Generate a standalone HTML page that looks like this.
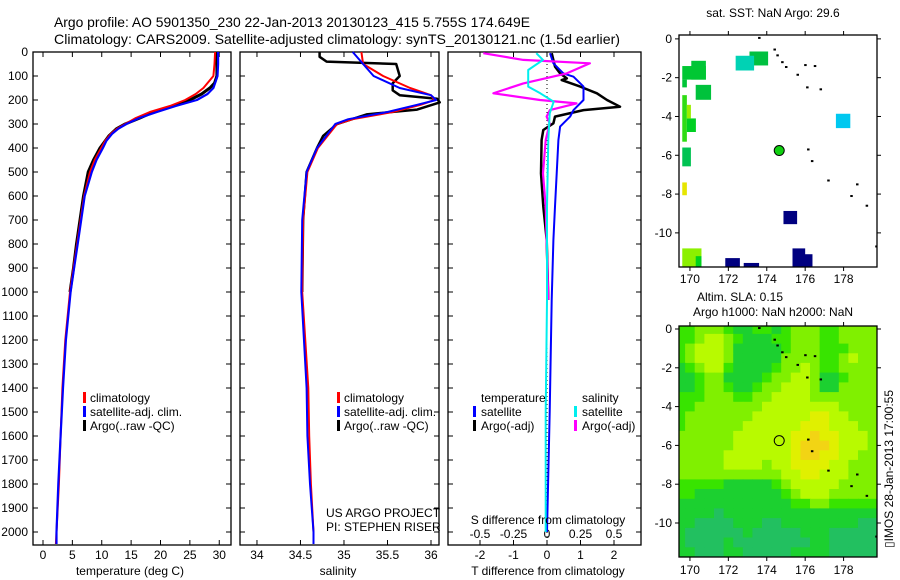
<!DOCTYPE html>
<html><head><meta charset="utf-8">
<style>
html,body{margin:0;padding:0;background:#fff;}
svg{display:block;font-family:"Liberation Sans",sans-serif;}
text{fill:#000;}
</style></head>
<body>
<svg id="fig" width="900" height="580" viewBox="0 0 900 580" xmlns="http://www.w3.org/2000/svg">
<text x="54" y="27" font-size="14" textLength="476" lengthAdjust="spacingAndGlyphs">Argo profile: AO 5901350_230 22-Jan-2013 20130123_415 5.755S 174.649E</text>
<text x="54" y="44" font-size="14" textLength="566" lengthAdjust="spacingAndGlyphs">Climatology: CARS2009. Satellite-adjusted climatology: synTS_20130121.nc (1.5d earlier)</text>
<g id="g1"></g>
<g id="g2"></g>
<g id="g3"></g>
<g id="g4"></g>
<g id="g5"></g>
<text x="773" y="17" font-size="12" text-anchor="middle">sat. SST: NaN Argo: 29.6</text>
<text x="740" y="301" font-size="12" text-anchor="middle">Altim. SLA: 0.15</text>
<text x="773" y="316" font-size="12" text-anchor="middle">Argo h1000: NaN h2000: NaN</text>
<text transform="translate(893,548) rotate(-90)" font-size="12">▯IMOS 28-Jan-2013 17:00:55</text>
</svg>
<script>
// ---- profile data ----
const depthTicks=[0,100,200,300,400,500,600,700,800,900,1000,1100,1200,1300,1400,1500,1600,1700,1800,1900,2000];
const tempTicks=[0,5,10,15,20,25,30];
const salTicks=[34,34.5,35,35.5,36];
const tdiffTicks=[-2,-1,0,1,2];
const sdiffTicks=[-0.5,-0.25,0,0.25,0.5];
const sdiffLabels=["-0.5","-0.25","0","0.25","0.5"];

const tClimDepth=[0,50,100,150,175,200,225,250,275,300,320,340,370,400,450,500,600,700,800,900,1000,1200,1400,1600,1800,2000,2050];
const tClimVal=[29.3,29.2,29,27.3,26.0,24.2,21.6,18.2,15.8,14,12.6,11.6,10.6,9.9,8.8,8.0,7.0,6.4,5.8,5.2,4.6,3.8,3.3,3.0,2.7,2.3,2.2];
const tSatDepth=[0,50,100,150,175,200,225,250,275,300,320,340,370,400,450,500,600,700,800,900,1000,1200,1400,1600,1800,2000,2050];
const tSatVal=[29.8,29.8,29.7,29.0,28.0,26.2,22.6,19.4,16.4,14.2,12.8,11.8,10.8,10.2,9.1,8.3,7.1,6.5,5.9,5.3,4.7,3.9,3.4,3.0,2.6,2.3,2.3];
const tArgoDepth=[0,50,100,130,150,175,200,225,250,275,300,320,350,400,450,500,600,700,800,900,1000];
const tArgoVal=[29.6,29.6,29.6,29.2,28.4,27.0,25.0,22.2,18.8,16.5,14,12.5,11.2,9.7,8.6,7.7,6.9,6.3,5.7,5.2,4.6];

const sClimDepth=[0,50,100,150,180,200,220,250,280,300,400,500,700,1000,1400,1600,1800,2000,2050];
const sClimVal=[35.2,35.22,35.45,35.76,36.0,36.04,35.88,35.56,35.1,34.92,34.7,34.58,34.53,34.52,34.59,34.6,34.62,34.65,34.65];
const sSatDepth=[0,50,100,150,180,200,220,250,280,300,400,500,700,1000,1400,1600,1800,2000,2050];
const sSatVal=[35.1,35.22,35.34,35.64,36.0,36.06,35.84,35.5,35.05,34.9,34.69,34.57,34.52,34.51,34.57,34.58,34.61,34.65,34.65];
const sArgoDepth=[0,20,40,50,100,130,160,180,195,210,240,260,300,350,400,500,700,1000];
const sArgoVal=[34.72,34.72,34.8,35.6,35.64,35.56,35.56,35.64,36.07,36.1,35.84,35.26,34.92,34.76,34.69,34.57,34.53,34.52];

const dTSatDepth=[5,47,89,103,144,200,242,269,311,367,506,644,783,1033,1500,2000];
const dTSatVal=[0.09,0.19,0.49,0.79,1.09,1.09,0.79,0.69,0.39,0.34,0.29,0.24,0.19,0.14,0.08,0.0];
const dTArgoDepth=[5,61,89,110,117,144,172,200,228,242,269,297,325,367,506,644,783,1033];
const dTArgoVal=[0.14,0.24,0.39,0.59,0.44,0.99,1.49,1.79,2.18,1.09,0.24,0.19,-0.11,-0.16,-0.18,-0.11,-0.01,0.04];
const dSSatDepth=[5,33,75,144,172,207,256,367,644,1033,1500,2000];
const dSSatVal=[-0.08,-0.03,-0.14,-0.14,-0.05,0.05,0.02,0.01,0,0,-0.01,-0.01];
const dSArgoDepth=[5,33,47,89,131,172,200,214,242,269,297,367,506,644,1033];
const dSArgoVal=[-0.475,-0.177,0.32,0.147,-0.177,-0.4,-0.052,0.22,0.022,-0.003,0.02,-0.01,-0.03,-0.01,0.01];

// ---- map data ----
const lonTicks=[170,172,174,176,178];
const latTicks=[0,-2,-4,-6,-8,-10];
const argoLon=174.649, argoLat=-5.755;
const sstBoxes=[[173.1,174.07,-0.65,-1.37],[172.38,173.34,-0.87,-1.63],[170.07,170.83,-1.13,-2.1],[169.6,170.83,-1.4,-2.1],[169.6,169.84,-2.1,-2.5],[170.3,171.1,-2.37,-3.14],[169.6,169.84,-2.9,-5.3],[169.84,170.31,-4.1,-4.8],[169.84,170.05,-3.4,-4.1],[169.6,170.05,-5.6,-6.57],[169.6,169.84,-7.4,-8.06],[177.6,178.35,-3.86,-4.6],[174.87,175.58,-8.87,-9.55],[175.34,176.0,-10.8,-11.8],[175.8,176.38,-11.1,-11.8],[171.84,172.6,-11.3,-11.8],[172.8,173.6,-11.55,-11.8],[169.6,170.6,-10.8,-11.8],[170.3,170.6,-11.2,-11.8]];
const sstVals=[27.4,26.8,27.6,27.7,27.6,27.5,28.4,28.1,28.9,27.3,29.4,26.0,24.0,24.0,24.0,24.0,24.0,28.8,28.2];
const islandLon=[173.6,174.4,174.55,174.8,175.0,175.6,176.0,176.1,176.5,176.8,176.15,176.35,177.2,178.7,178.4,179.2,179.7];
const islandLat=[0.05,-0.55,-0.85,-1.2,-1.45,-1.85,-1.35,-2.5,-1.4,-2.6,-5.7,-6.3,-7.3,-7.5,-8.1,-8.6,-10.7];
const slaRows=[
"223332112212333223333","223443211122333223333","234443111112333222333","234443111113333223433",
"123442111123343223333","112331111233443112333","112332112334443113333","222333223344443333333",
"223333333444444443333","233333334444445544333","233333344444455544433","333333444444556554443",
"333333444444566654443","333334444444566554433","333334444344555544333","333333333334455444333",
"222221111123444443333","221111111112344433333","111111111111223322222","111101111111111111111",
"110000111001111111100","100000010000011100000","100001000000001100000","110001100000111100000"];
const slaColors=["#22c060","#1cd030","#38e400","#80f000","#b8fa00","#e0f000","#f2d414"];

const NS="http://www.w3.org/2000/svg";
function mk(parent,tag,attrs){const e=document.createElementNS(NS,tag);for(const k in attrs)e.setAttribute(k,attrs[k]);parent.appendChild(e);return e;}

const PY0=52,PY1=545,DMAX=(PY1-PY0)/0.24;
function yD(d){return PY0+d/DMAX*(PY1-PY0);}

function panel(g,x0,x1,vmin,vmax){
  const f=v=>x0+(v-vmin)/(vmax-vmin)*(x1-x0);
  const r=mk(g,'rect',{x:x0,y:PY0,width:x1-x0,height:PY1-PY0,fill:'none',stroke:'#000','stroke-width':1.3});
  
  
  depthTicks.forEach(d=>{mk(g,'line',{x1:x0,x2:x0+5,y1:yD(d),y2:yD(d),stroke:'#000'});mk(g,'line',{x1:x1,x2:x1-5,y1:yD(d),y2:yD(d),stroke:'#000'});});
  return f;
}
function xticks(g,f,ticks,labels,ly,withTop){
  ticks.forEach((t,i)=>{const x=f(t);
    mk(g,'line',{x1:x,x2:x,y1:PY1,y2:PY1-5,stroke:'#000'});
    if(withTop)mk(g,'line',{x1:x,x2:x,y1:PY0,y2:PY0+5,stroke:'#000'});
    const tx=mk(g,'text',{x:x,y:ly,'font-size':12,'text-anchor':'middle'});tx.textContent=labels?labels[i]:String(t);
    
    
  });
}
function line(g,f,ds,vs,col,w,name){
  const pts=ds.map((d,i)=>f(vs[i]).toFixed(1)+','+yD(d).toFixed(1)).join(' ');
  const p=mk(g,'polyline',{points:pts,fill:'none',stroke:col,'stroke-width':w,'stroke-linejoin':'round'});
  
  
}
function label(g,x,y,s,name,anchor){const t=mk(g,'text',{x:x,y:y,'font-size':12,'text-anchor':anchor||'start'});t.textContent=s;
  
  
  return t;}
function legMark(g,x,y,col){mk(g,'rect',{x:x,y:y-10,width:3,height:11,fill:col});}

const g1=document.getElementById('g1');
const fT=panel(g1,33,231,-1.7,32.0);
depthTicks.forEach(d=>label(g1,28,yD(d)+4,String(d),'y-tick-label','end'));
xticks(g1,fT,tempTicks,null,559,true);
line(g1,fT,tArgoDepth,tArgoVal,'#000',3,'argo-temperature-line');
line(g1,fT,tClimDepth,tClimVal,'#f00',2,'climatology-temperature-line');
line(g1,fT,tSatDepth,tSatVal,'#00f',2.2,'satellite-temperature-line');
label(g1,130,575,'temperature (deg C)','x-axis-title','middle');
[['#f00','climatology'],['#00f','satellite-adj. clim.'],['#000','Argo(..raw -QC)']].forEach((l,i)=>{legMark(g1,83,402+i*14,l[0]);label(g1,90,402+i*14,l[1],'legend-entry');});

const g2=document.getElementById('g2');
const fS=panel(g2,240,439,33.805,36.092);
xticks(g2,fS,salTicks,null,559,true);
line(g2,fS,sArgoDepth,sArgoVal,'#000',2.5,'argo-salinity-line');
line(g2,fS,sClimDepth,sClimVal,'#f00',2,'climatology-salinity-line');
line(g2,fS,sSatDepth,sSatVal,'#00f',2,'satellite-salinity-line');
label(g2,338,575,'salinity','x-axis-title','middle');
[['#f00','climatology'],['#00f','satellite-adj. clim.'],['#000','Argo(..raw -QC)']].forEach((l,i)=>{legMark(g2,337,402+i*14,l[0]);label(g2,344,402+i*14,l[1],'legend-entry');});
label(g2,326,517,'US ARGO PROJECT','credit-project');
label(g2,326,531,'PI: STEPHEN RISER','credit-pi');

const g3=document.getElementById('g3');
const fDT=panel(g3,448,641,-2.955,2.806);
const fDS=v=>fDT(v*4);
xticks(g3,fDT,tdiffTicks,null,559,true);
sdiffTicks.forEach((t,i)=>{label(g3,fDS(t),538,sdiffLabels[i],'s-tick-label','middle');});
mk(g3,'line',{x1:fDT(0),x2:fDT(0),y1:PY0,y2:PY1,stroke:'#000','stroke-dasharray':'1,3'});
line(g3,fDT,dTArgoDepth,dTArgoVal,'#000',2.5,'argo-temperature-difference-line');
line(g3,fDT,dTSatDepth,dTSatVal,'#00f',2,'satellite-temperature-difference-line');
line(g3,fDS,dSArgoDepth,dSArgoVal,'#f0f',2.2,'argo-salinity-difference-line');
line(g3,fDS,dSSatDepth,dSSatVal,'#0ee',2,'satellite-salinity-difference-line');
label(g3,548,524,'S difference from climatology','s-axis-title','middle');
label(g3,548,575,'T difference from climatology','t-axis-title','middle');
label(g3,481,402,'temperature','legend-heading');
label(g3,582,402,'salinity','legend-heading');
legMark(g3,473,416,'#00f');label(g3,481,416,'satellite','legend-entry');
legMark(g3,473,430,'#000');label(g3,481,430,'Argo(-adj)','legend-entry');
legMark(g3,574,416,'#0ee');label(g3,582,416,'satellite','legend-entry');
legMark(g3,574,430,'#f0f');label(g3,582,430,'Argo(-adj)','legend-entry');

const MX0=679,MX1=877,LON0=169.43,LON1=179.74;
function fLon(v){return MX0+(v-LON0)/(LON1-LON0)*(MX1-MX0);}
function mapAxes(g,y0,y1,fLat,lly){
  const r=mk(g,'rect',{x:MX0,y:y0,width:MX1-MX0,height:y1-y0,fill:'none',stroke:'#000','stroke-width':1.3});
  
  
  lonTicks.forEach(t=>{const x=fLon(t);mk(g,'line',{x1:x,x2:x,y1:y1,y2:y1+4,stroke:'#000'});mk(g,'line',{x1:x,x2:x,y1:y0,y2:y0-4,stroke:'#000'});
    label(g,x,lly,String(t),'lon-tick-label','middle');});
  latTicks.forEach(t=>{const y=fLat(t);mk(g,'line',{x1:MX0,x2:MX0-4,y1:y,y2:y,stroke:'#000'});mk(g,'line',{x1:MX1,x2:MX1+4,y1:y,y2:y,stroke:'#000'});
    label(g,672,y+4,String(t),'lat-tick-label','end');});
}
function sstColor(v){
  const stops=[[24,[0,0,128]],[25,[0,40,200]],[26,[0,200,240]],[26.8,[0,210,180]],[27.4,[0,192,64]],[28.2,[0,210,30]],[28.8,[140,240,0]],[29.4,[230,230,0]]];
  if(v<=stops[0][0])return 'rgb('+stops[0][1]+')';
  for(let i=1;i<stops.length;i++){if(v<=stops[i][0]){const a=stops[i-1],b=stops[i],t=(v-a[0])/(b[0]-a[0]);return 'rgb('+a[1].map((c,j)=>Math.round(c+(b[1][j]-c)*t)).join(',')+')';}}
  return 'rgb('+stops[stops.length-1][1]+')';
}
function islands(g,fLat){
  islandLon.forEach((lo,i)=>{const c=mk(g,'rect',{x:fLon(lo)-1,y:fLat(islandLat[i])-1,width:2.5,height:2,fill:'#000'});
    
    });
}
const defs=mk(document.getElementById('fig'),'defs',{});
const cp=mk(defs,'clipPath',{id:'clipSla'});mk(cp,'rect',{x:MX0,y:326,width:MX1-MX0,height:231});
const cp2=mk(defs,'clipPath',{id:'clipSst'});mk(cp2,'rect',{x:MX0,y:35,width:MX1-MX0,height:232});

const g4=document.getElementById('g4');
const fLat1=v=>35+(0.2-v)*19.4;
const g4c=mk(g4,'g',{'clip-path':'url(#clipSst)'});
sstBoxes.forEach((b,i)=>{const x=fLon(b[0]),y=fLat1(b[2]);const r=mk(g4c,'rect',{x:x,y:y,width:fLon(b[1])-x,height:fLat1(b[3])-y,fill:sstColor(sstVals[i])});
  
  });
islands(g4c,fLat1);
const c1=mk(g4,'circle',{cx:fLon(argoLon),cy:fLat1(argoLat),r:5,fill:'#10d010',stroke:'#000','stroke-width':1});


mapAxes(g4,35,267,fLat1,283);

const g5=document.getElementById('g5');
const fLat2=v=>329+(0-v)*19.4;
const g5c=mk(g5,'g',{'clip-path':'url(#clipSla)'});
slaRows.forEach((row,ri)=>{for(let ci=0;ci<row.length;ci++){
  const lon=169.5+ci*0.5, lat=0.25-ri*0.5;
  const x=fLon(lon-0.25), y=fLat2(lat);
  const r=mk(g5c,'rect',{x:x.toFixed(1),y:y.toFixed(1),width:(fLon(lon+0.25)-x+0.5).toFixed(1),height:(19.4*0.5+0.5).toFixed(1),fill:slaColors[+row[ci]]});
  
  
}});
islands(g5c,fLat2);
const c2=mk(g5,'circle',{cx:fLon(argoLon),cy:fLat2(argoLat),r:5,fill:'none',stroke:'#000','stroke-width':1});


mapAxes(g5,326,557,fLat2,574);
</script>
</body></html>
